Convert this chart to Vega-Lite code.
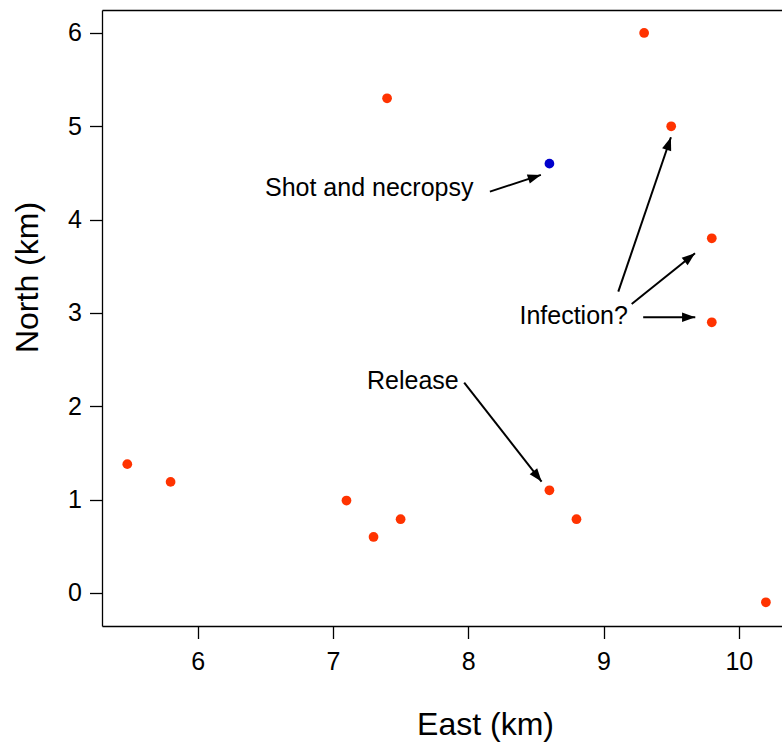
{
  "$schema": "https://vega.github.io/schema/vega-lite/v6.json",
  "width": 680,
  "height": 616,
  "autosize": {"type": "none"},
  "padding": {"left": 102, "top": 10, "right": 0, "bottom": 121},
  "background": "white",
  "config": {
    "view": {"stroke": null},
    "font": "Liberation Sans",
    "axis": {
      "grid": false,
      "domainColor": "black",
      "domainWidth": 1.3,
      "tickColor": "black",
      "tickWidth": 1.3,
      "labelColor": "black",
      "titleColor": "black",
      "labelFont": "Liberation Sans",
      "titleFont": "Liberation Sans",
      "labelFontSize": 25,
      "titleFontSize": 32,
      "titleFontWeight": "normal"
    },
    "axisBottom": {
      "tickSize": 12.5,
      "labelPadding": 11,
      "labelFontSize": 25,
      "titleFontSize": 32,
      "titleX": 383,
      "titleY": 108,
      "titleAlign": "center",
      "titleBaseline": "alphabetic",
      "labelFlush": false
    },
    "axisLeft": {
      "tickSize": 12.5,
      "labelPadding": 8,
      "labelFontSize": 25,
      "titleFontSize": 32,
      "titleX": -65,
      "titleY": 267,
      "titleAngle": 270,
      "titleAlign": "center",
      "titleBaseline": "alphabetic",
      "labelFlush": false
    },
    "axisTop": {"labels": false, "ticks": false, "domain": true}
  },
  "datasets": {
    "points": [
      {"east": 5.48, "north": 1.38, "kind": "other"},
      {"east": 5.8, "north": 1.19, "kind": "other"},
      {"east": 7.1, "north": 0.99, "kind": "other"},
      {"east": 7.3, "north": 0.6, "kind": "other"},
      {"east": 7.5, "north": 0.79, "kind": "other"},
      {"east": 7.4, "north": 5.3, "kind": "other"},
      {"east": 8.6, "north": 4.6, "kind": "shot"},
      {"east": 9.3, "north": 6.0, "kind": "other"},
      {"east": 9.5, "north": 5.0, "kind": "other"},
      {"east": 9.8, "north": 3.8, "kind": "other"},
      {"east": 9.8, "north": 2.9, "kind": "other"},
      {"east": 8.6, "north": 1.1, "kind": "other"},
      {"east": 8.8, "north": 0.79, "kind": "other"},
      {"east": 10.2, "north": -0.1, "kind": "other"}
    ],
    "arrows": [
      {"x0": 8.16, "y0": 4.3, "x1": 8.537, "y1": 4.479},
      {"x0": 9.109, "y0": 3.228, "x1": 9.498, "y1": 4.883},
      {"x0": 9.208, "y0": 3.097, "x1": 9.676, "y1": 3.64},
      {"x0": 9.293, "y0": 2.954, "x1": 9.678, "y1": 2.954},
      {"x0": 7.97, "y0": 2.253, "x1": 8.542, "y1": 1.193}
    ],
    "labels": [
      {"label": "Shot and necropsy", "x": 7.268, "y": 4.257},
      {"label": "Infection?", "x": 8.779, "y": 2.882},
      {"label": "Release", "x": 7.591, "y": 2.183}
    ]
  },
  "layer": [
    {
      "data": {"name": "points"},
      "mark": {"type": "point", "filled": true, "size": 95, "opacity": 1},
      "encoding": {
        "x": {
          "field": "east",
          "type": "quantitative",
          "title": "East (km)",
          "scale": {"domain": [5.293, 10.319], "nice": false, "zero": false},
          "axis": {"orient": "bottom", "values": [6, 7, 8, 9, 10], "format": "d", "labelFontSize": 25}
        },
        "y": {
          "field": "north",
          "type": "quantitative",
          "title": "North (km)",
          "scale": {"domain": [-0.354, 6.246], "nice": false, "zero": false},
          "axis": {"values": [0, 1, 2, 3, 4, 5, 6], "format": "d", "labelFontSize": 25}
        },
        "color": {
          "field": "kind",
          "type": "nominal",
          "scale": {"domain": ["other", "shot"], "range": ["#ff3300", "#0000cc"]},
          "legend": null
        }
      }
    },
    {
      "data": {"name": "arrows"},
      "mark": {"type": "rule", "strokeWidth": 2, "color": "black"},
      "encoding": {
        "x": {"field": "x0", "type": "quantitative", "axis": null},
        "y": {"field": "y0", "type": "quantitative", "title": "North (km)"},
        "x2": {"field": "x1"},
        "y2": {"field": "y1"}
      }
    },
    {
      "data": {"name": "arrows"},
      "mark": {
        "type": "point",
        "shape": "M0,0 L-0.36,1 L0.36,1 Z",
        "filled": true,
        "size": 700,
        "color": "black",
        "opacity": 1,
        "angle": {"expr": "90 + atan2(scale('y', datum.y1) - scale('y', datum.y0), scale('x', datum.x1) - scale('x', datum.x0)) * 180 / PI"}
      },
      "encoding": {
        "x": {"field": "x1", "type": "quantitative", "axis": null},
        "y": {"field": "y1", "type": "quantitative", "title": "North (km)"}
      }
    },
    {
      "data": {"name": "labels"},
      "mark": {"type": "text", "fontSize": 25, "align": "center", "baseline": "alphabetic", "color": "black", "font": "Liberation Sans"},
      "encoding": {
        "x": {"field": "x", "type": "quantitative", "title": null, "axis": {"orient": "top"}},
        "y": {"field": "y", "type": "quantitative", "title": "North (km)"},
        "text": {"field": "label"}
      }
    }
  ],
  "resolve": {"axis": {"x": "independent"}}
}
